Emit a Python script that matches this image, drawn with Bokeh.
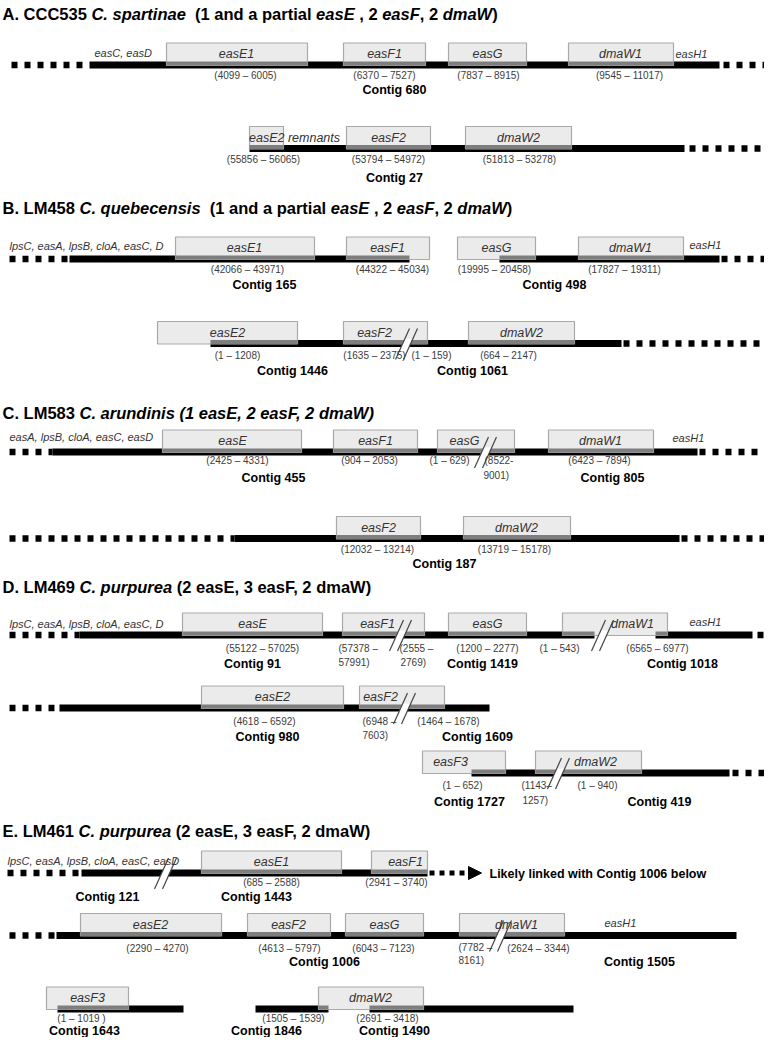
from bokeh.plotting import figure
from bokeh.models import Range1d, Arrow, NormalHead
from bokeh.core.properties import value
from bokeh.embed import file_html
from bokeh.resources import INLINE

FONT = "Liberation Sans"

# ---------------- data ----------------
# rows of the diagram (baseline of the contig bar, diagram units = px of the original)
row_names = ["A1", "A2", "B1", "B2", "C1", "C2", "D1", "D2", "D3", "E1", "E2", "E3"]
row_line_y = [72.5, 156, 266.5, 351, 459.5, 546, 642.5, 715.5, 780.5, 880.5, 943, 1016.5]

# gene boxes
gene_row = ["A1", "A1", "A1", "A1", "A2", "A2", "A2",
            "B1", "B1", "B1", "B1", "B2", "B2", "B2",
            "C1", "C1", "C1", "C1", "C2", "C2",
            "D1", "D1", "D1", "D1", "D2", "D2", "D3", "D3",
            "E1", "E1", "E2", "E2", "E2", "E2", "E3", "E3"]
gene_name = ["easE1", "easF1", "easG", "dmaW1", "easE2 remnants", "easF2", "dmaW2",
             "easE1", "easF1", "easG", "dmaW1", "easE2", "easF2", "dmaW2",
             "easE", "easF1", "easG", "dmaW1", "easF2", "dmaW2",
             "easE", "easF1", "easG", "dmaW1", "easE2", "easF2", "easF3", "dmaW2",
             "easE1", "easF1", "easE2", "easF2", "easG", "dmaW1", "easF3", "dmaW2"]
gene_start = [174, 351, 456, 576, 257, 354, 473,
              183, 354, 465, 586, 165, 351, 476,
              170, 341, 445, 556, 344, 471,
              190, 350, 456, 570, 209, 367, 430, 543,
              209, 379, 88, 255, 353, 467, 54, 326]
gene_end = [315, 433, 534, 681, 291, 438, 579,
            322, 437, 543, 691, 305, 435, 582,
            309, 425, 522, 661, 428, 578,
            330, 432, 534, 675, 351, 452, 513, 649,
            349, 435, 229, 338, 431, 572, 136, 431]
gene_label_x = [244, 392, 495, 628, 302, 396, 526,
                252, 395, 504, 638, 235, 382, 529,
                240, 383, 472, 608, 386, 524,
                260, 385, 495, 640, 280, 388, 458, 603,
                279, 413, 158, 296, 392, 524, 95, 378]

# contig bars
contig_row = ["A1", "A2", "B1", "B1", "B2", "C1", "C2", "D1", "D1", "D2", "D3",
              "E1", "E2", "E3", "E3", "E3"]
contig_start = [97, 257, 77, 507, 218, 60, 242, 87, 663, 67, 479, 89, 64, 65, 263, 377]
contig_end = [727, 692, 417, 727, 629, 705, 687, 602, 760, 497, 737, 435, 744, 191, 336, 581]

# dotted (unassembled) continuations
dot_row = ["A1", "A1", "A2", "B1", "B1", "B2", "C1", "C1", "C2", "C2", "D1", "D1",
           "D2", "D3", "E1", "E2"]
dot_start = [19, 731, 697, 17, 729, 631, 17, 707, 17, 689, 17, 765, 17, 740, 15, 17]
dot_end = [95, 780, 780, 77, 780, 780, 60, 780, 242, 780, 87, 780, 67, 780, 89, 64]

# contig breaks (double slash)
break_row = ["B2", "C1", "D1", "D1", "D2", "D3", "E1", "E2"]
break_x = [414, 493, 408, 610, 412, 566, 173, 508]

# coordinate labels
coord_text = ["(4099 – 6005)", "(6370 – 7527)", "(7837 – 8915)", "(9545 – 11017)",
              "(55856 – 56065)", "(53794 – 54972)", "(51813 – 53278)",
              "(42066 – 43971)", "(44322 – 45034)", "(19995 – 20458)", "(17827 – 19311)",
              "(1 – 1208)", "(1635 – 2375)", "(1 – 159)", "(664 – 2147)",
              "(2425 – 4331)", "(904 – 2053)", "(1 – 629)", "(6423 – 7894)",
              "(12032 – 13214)", "(13719 – 15178)",
              "(55122 – 57025)", "(1200 – 2277)", "(1 – 543)", "(6565 – 6977)",
              "(4618 – 6592)", "(1464 – 1678)", "(1 – 652)", "(1 – 940)",
              "(685 – 2588)", "(2941 – 3740)",
              "(2290 – 4270)", "(4613 – 5797)", "(6043 – 7123)", "(2624 – 3344)",
              "(1 – 1019 )", "(1505 – 1539)", "(2691 – 3418)"]
coord_x = [253, 392, 496, 637, 271, 396, 527,
           255, 400, 502, 632, 245, 382, 439, 516,
           245, 377, 457, 607, 385, 522,
           270, 495, 567, 665, 272, 456, 470, 605,
           279, 404, 165, 297, 391, 546, 89, 301, 395]
coord_y = [83, 83, 83, 83, 167, 167, 167,
           277, 277, 277, 277, 363, 363, 363, 363,
           468, 468, 468, 468, 557, 557,
           656, 656, 656, 656, 729, 729, 793, 793,
           890, 890, 956, 956, 956, 956, 1026, 1026, 1026]

# two-line coordinate labels (left aligned)
split_text = ["(8522-", "9001)", "(57378 –", "57991)", "(2555 –", "2769)",
              "(6948 –", "7603)", "(1143–", "1257)", "(7782 –", "8161)"]
split_x = [492, 491, 346, 346, 407, 408, 370, 370, 529, 530, 466, 466]
split_y = [468, 483, 656, 670, 656, 670, 729, 743, 793, 808, 955, 968]

contig_text = ["Contig 680", "Contig 27", "Contig 165", "Contig 498", "Contig 1446",
               "Contig 1061", "Contig 455", "Contig 805", "Contig 187", "Contig 91",
               "Contig 1419", "Contig 1018", "Contig 980", "Contig 1609", "Contig 1727",
               "Contig 419", "Contig 121", "Contig 1443", "Contig 1006", "Contig 1505",
               "Contig 1643", "Contig 1846", "Contig 1490"]
contig_lx = [402, 402, 272, 562, 300, 480, 281, 620, 452, 260, 490, 690, 275, 485, 477,
             667, 115, 264, 332, 647, 92, 274, 402]
contig_ly = [97, 185, 292, 292, 378, 378, 485, 485, 571, 671, 671, 671, 744, 744, 809,
             809, 904, 904, 969, 969, 1038, 1038, 1038]

flank_text = ["easC, easD", "easH1", "lpsC, easA, lpsB,  cloA, easC, D", "easH1",
              "easA, lpsB, cloA, easC, easD", "easH1", "lpsC, easA, lpsB, cloA, easC, D",
              "easH1", "lpsC, easA, lpsB, cloA, easC, easD", "easH1"]
flank_x = [102, 683, 17, 697, 17, 680, 17, 697, 15, 612]
flank_y = [60, 61, 253, 252, 444, 445, 631, 629, 868, 930]

titles = [
    [("A. CCC535 ", "bold"), ("C. spartinae", "bold italic"), ("  (1 and a partial ", "bold"),
     ("easE", "bold italic"), (" , 2 ", "bold"), ("easF", "bold italic"), (", 2 ", "bold"),
     ("dmaW", "bold italic"), (")", "bold")],
    [("B. LM458 ", "bold"), ("C. quebecensis", "bold italic"), ("  (1 and a partial ", "bold"),
     ("easE", "bold italic"), (" , 2 ", "bold"), ("easF", "bold italic"), (", 2 ", "bold"),
     ("dmaW", "bold italic"), (")", "bold")],
    [("C. LM583 ", "bold"), ("C. arundinis (1 easE, 2 easF, 2 dmaW)", "bold italic")],
    [("D. LM469 ", "bold"), ("C. purpurea", "bold italic"), (" (2 easE, 3 easF, 2 dmaW)", "bold")],
    [("E. LM461 ", "bold"), ("C. purpurea", "bold italic"), (" (2 easE, 3 easF, 2 dmaW)", "bold")],
]
title_y = [21, 215, 420, 594, 838]

link_note = "Likely linked with Contig 1006 below"

# ---------------- layout helpers ----------------
ROW_Y = dict(zip(row_names, row_line_y))
BAR_H = 7.0
BOX_H = 22.0
TITLE_SIZE = 16.5

BOLD_W = {' ': 278, '(': 333, ')': 333, ',': 278, '.': 278, 'A': 722, 'B': 722, 'C': 722,
          'D': 722, 'E': 667, 'F': 611, 'L': 611, 'M': 833, 'W': 944, 'a': 556, 'b': 611,
          'c': 556, 'd': 611, 'e': 556, 'f': 333, 'g': 611, 'h': 611, 'i': 278, 'k': 556,
          'l': 278, 'm': 889, 'n': 611, 'o': 611, 'p': 611, 'q': 611, 'r': 389, 's': 556,
          't': 333, 'u': 611, 'w': 778, 'y': 556}


def tw(s, size):
    return sum(BOLD_W.get(c, 556) for c in s) * size / 1000.0


p = figure(width=764, height=1037, x_range=Range1d(8, 772), y_range=Range1d(1045, 8),
           output_backend="svg", toolbar_location=None, min_border=0)
p.axis.visible = False
p.grid.visible = False
p.outline_line_color = None
p.background_fill_color = "white"
p.border_fill_color = "white"

# dotted continuations
p.segment(x0=dot_start, x1=dot_end,
          y0=[ROW_Y[r] for r in dot_row], y1=[ROW_Y[r] for r in dot_row],
          line_color="black", line_width=6.5, line_dash="6 7", line_cap="butt")

# contig bars
cy = [ROW_Y[r] for r in contig_row]
p.quad(left=contig_start, right=contig_end, top=[y - BAR_H / 2 for y in cy],
       bottom=[y + BAR_H / 2 for y in cy], fill_color="black", line_color=None)

# gene boxes
gy = [ROW_Y[r] for r in gene_row]
p.quad(left=gene_start, right=gene_end, top=[y - BOX_H for y in gy],
       bottom=[y + 0.5 for y in gy], fill_color="#ebebeb", line_color="#a9a9a9",
       line_width=1.2)

# part of a gene box lying on an assembled contig
sl, sr, st, sb = [], [], [], []
for r, a, b in zip(gene_row, gene_start, gene_end):
    for cr, c0, c1 in zip(contig_row, contig_start, contig_end):
        if cr == r and min(b, c1) > max(a, c0):
            sl.append(max(a, c0))
            sr.append(min(b, c1))
            st.append(ROW_Y[r] - BAR_H / 2)
            sb.append(ROW_Y[r] + 0.5)
p.quad(left=sl, right=sr, top=st, bottom=sb, fill_color="#7e7e7e", line_color=None)

# contig breaks
wxs, wys, s1x0, s1x1, s1y0, s1y1 = [], [], [], [], [], []
for r, x in zip(break_row, break_x):
    y = ROW_Y[r]
    wxs.append([x - 4 - 2, x + 4 - 2, x + 4 + 2, x - 4 + 2])
    wys.append([y + 4.5, y + 4.5, y - 4.5, y - 4.5])
    for o in (-4, 4):
        s1x0.append(x + o - 7)
        s1x1.append(x + o + 7)
        s1y0.append(y + 16)
        s1y1.append(y - 15)
p.patches(xs=wxs, ys=wys, fill_color="white", line_color=None)
p.segment(x0=s1x0, x1=s1x1, y0=s1y0, y1=s1y1, line_color="#444444", line_width=1.2)

# arrow to the next contig
p.add_layout(Arrow(end=NormalHead(size=13, fill_color="black", line_color="black"),
                   x_start=437, y_start=ROW_Y["E1"], x_end=489, y_end=ROW_Y["E1"],
                   line_width=5, line_dash="5 5", line_color="black"))
p.text(x=[497], y=[ROW_Y["E1"] + 1], text=[link_note], text_font=value(FONT),
       text_font_size="12.5px", text_font_style="bold", text_baseline="middle",
       text_align="left", text_color="black")

# texts
p.text(x=gene_label_x, y=[y - 11 for y in gy], text=gene_name, text_font=value(FONT),
       text_font_size="12.5px", text_font_style="italic", text_align="center",
       text_baseline="middle", text_color="#333333")
p.text(x=coord_x, y=coord_y, text=coord_text, text_font=value(FONT),
       text_font_size="10px", text_align="center", text_baseline="middle",
       text_color="#3c3c3c")
p.text(x=split_x, y=split_y, text=split_text, text_font=value(FONT),
       text_font_size="10px", text_align="left", text_baseline="middle",
       text_color="#3c3c3c")
p.text(x=contig_lx, y=contig_ly, text=contig_text, text_font=value(FONT),
       text_font_size="12.5px", text_font_style="bold", text_align="center",
       text_baseline="middle", text_color="black")
p.text(x=flank_x, y=flank_y, text=flank_text, text_font=value(FONT),
       text_font_size="11px", text_font_style="italic", text_align="left",
       text_baseline="middle", text_color="#333333")

# panel titles (mixed styles)
for segs, ty in zip(titles, title_y):
    x = 10.0
    for s, style in segs:
        lead = len(s) - len(s.lstrip(" "))
        x += tw(" " * lead, TITLE_SIZE)
        core = s.strip(" ")
        p.text(x=[x], y=[ty], text=[core], text_font=value(FONT),
               text_font_size="%.1fpx" % TITLE_SIZE, text_font_style=style,
               text_align="left", text_baseline="middle", text_color="black")
        x += tw(s.lstrip(" "), TITLE_SIZE)

open("out.html", "w").write(file_html(p, INLINE))
